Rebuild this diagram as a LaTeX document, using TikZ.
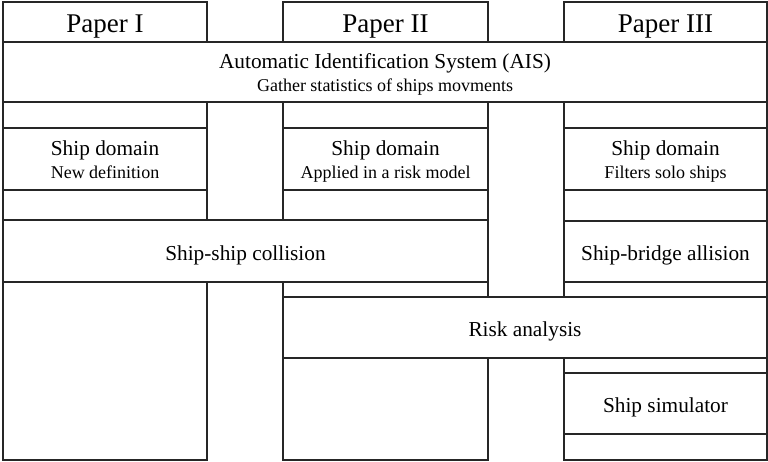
\documentclass[tikz,border=0pt]{standalone}
\usepackage{fontspec}
\setmainfont{Liberation Serif}
\begin{document}
\begin{tikzpicture}[x=1pt,y=-1pt,
  box/.style={draw=black!85, line width=1.3pt, fill=white, rectangle, inner sep=0pt, outer sep=0pt, anchor=north west},
  head/.style={font=\fontsize{27}{30}\selectfont, anchor=base, inner sep=0pt},
  mainlbl/.style={font=\fontsize{21.3}{24}\selectfont, anchor=base, inner sep=0pt},
  sublbl/.style={font=\fontsize{18}{21}\selectfont, anchor=base, inner sep=0pt}]
\useasboundingbox (0,0) rectangle (768,461);
% column bodies
\node[box, minimum width=204pt, minimum height=418pt] (c1) at (3,42) {};
\node[box, minimum width=205pt, minimum height=418pt] (c2) at (283,42) {};
\node[box, minimum width=203pt, minimum height=418pt] (c3) at (564,42) {};
% headers
\node[box, minimum width=204pt, minimum height=40pt] (p1) at (3,2) {};
\node[box, minimum width=205pt, minimum height=40pt] (p2) at (283,2) {};
\node[box, minimum width=203pt, minimum height=40pt] (p3) at (564,2) {};
\node[head] (tp1) at ([yshift=-10.5pt]p1.center) {Paper I};
\node[head] (tp2) at ([yshift=-10.5pt]p2.center) {Paper II};
\node[head] (tp3) at ([yshift=-10.5pt]p3.center) {Paper III};
% AIS
\node[box, minimum width=764pt, minimum height=60pt] (ais) at (3,42) {};
\node[mainlbl] (tais) at ([yshift=4pt]ais.center) {Automatic Identification System (AIS)};
\node[sublbl] (sais) at ([yshift=-19pt]ais.center) {Gather statistics of ships movments};
% ship domain boxes
\node[box, minimum width=204pt, minimum height=62pt] (sd1) at (3,128) {};
\node[box, minimum width=205pt, minimum height=62pt] (sd2) at (283,128) {};
\node[box, minimum width=203pt, minimum height=62pt] (sd3) at (564,128) {};
\node[mainlbl] (tsd1) at ([yshift=4pt]sd1.center) {Ship domain};
\node[sublbl] (ssd1) at ([yshift=-19pt]sd1.center) {New definition};
\node[mainlbl] (tsd2) at ([yshift=4pt]sd2.center) {Ship domain};
\node[sublbl] (ssd2) at ([yshift=-19pt]sd2.center) {Applied in a risk model};
\node[mainlbl] (tsd3) at ([yshift=4pt]sd3.center) {Ship domain};
\node[sublbl] (ssd3) at ([yshift=-19pt]sd3.center) {Filters solo ships};
% collision / allision
\node[box, minimum width=485pt, minimum height=62pt] (coll) at (3,220) {};
\node[mainlbl] (tcoll) at ([yshift=-9pt]coll.center) {Ship-ship collision};
\node[box, minimum width=203pt, minimum height=61pt] (alli) at (564,221) {};
\node[mainlbl] (talli) at ([yshift=-9pt]alli.center) {Ship-bridge allision};
% risk analysis
\node[box, minimum width=484pt, minimum height=61pt] (risk) at (283,297) {};
\node[mainlbl] (trisk) at ([yshift=-9pt]risk.center) {Risk analysis};
% simulator
\node[box, minimum width=203pt, minimum height=61pt] (sim) at (564,373) {};
\node[mainlbl] (tsim) at ([yshift=-9pt]sim.center) {Ship simulator};
\end{tikzpicture}
\end{document}
